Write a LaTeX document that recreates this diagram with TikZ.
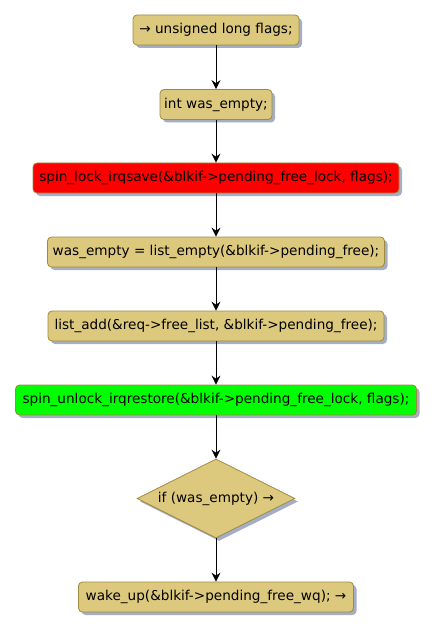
\documentclass[tikz,border=0pt]{standalone}
\usepackage{fontspec}
\setmainfont{DejaVu Sans}
\usetikzlibrary{shapes.geometric,arrows.meta,shadows}
\definecolor{boxfill}{HTML}{DDC97E}
\definecolor{boxline}{HTML}{9C8A40}
\definecolor{shadowcol}{HTML}{A4AEC4}
\definecolor{redfill}{HTML}{FF0000}
\definecolor{greenfill}{HTML}{00FF00}
\tikzset{
  x=1pt,y=1pt,
  stepbox/.style={draw=boxline, fill=boxfill, rounded corners=4pt, line width=0.8pt,
    minimum height=30pt, inner sep=0pt, font=\fontsize{13.6}{15}\selectfont,
    drop shadow={shadow xshift=3pt, shadow yshift=-3pt, fill=shadowcol, opacity=1}},
  decbox/.style={draw=boxline, fill=boxfill, shape=diamond, line width=0.8pt, aspect=2,
    minimum width=158pt, minimum height=79pt, inner sep=0pt, font=\fontsize{13.6}{15}\selectfont,
    drop shadow={shadow xshift=3pt, shadow yshift=-3pt, fill=shadowcol, opacity=1}},
  conn/.style={draw=black, line width=0.8pt, -{Stealth[length=9pt,width=9pt,inset=3pt]}}
}
\begin{document}
\begin{tikzpicture}
\useasboundingbox (0,0) rectangle (435,-631);
\node[stepbox, minimum width=166pt] (n1) at (216,-30) {→ unsigned long flags;};
\node[stepbox, minimum width=112pt] (n2) at (216,-104.5) {int was\_empty;};
\node[stepbox, minimum width=366pt, fill=redfill] (n3) at (216,-178) {spin\_lock\_irqsave(\&blkif->pending\_free\_lock, flags);};
\node[stepbox, minimum width=337pt] (n4) at (216,-252) {was\_empty = list\_empty(\&blkif->pending\_free);};
\node[stepbox, minimum width=336pt] (n5) at (216,-326) {list\_add(\&req->free\_list, \&blkif->pending\_free);};
\node[stepbox, minimum width=401pt, fill=greenfill] (n6) at (216,-400) {spin\_unlock\_irqrestore(\&blkif->pending\_free\_lock, flags);};
\node[decbox] (n7) at (216,-498.5) {if (was\_empty) →};
\node[stepbox, minimum width=275pt] (n8) at (216,-597) {wake\_up(\&blkif->pending\_free\_wq); →};
\draw[conn] (n1) -- (n2);
\draw[conn] (n2) -- (n3);
\draw[conn] (n3) -- (n4);
\draw[conn] (n4) -- (n5);
\draw[conn] (n5) -- (n6);
\draw[conn] (n6) -- (n7);
\draw[conn] (n7) -- (n8);
\end{tikzpicture}
\end{document}
